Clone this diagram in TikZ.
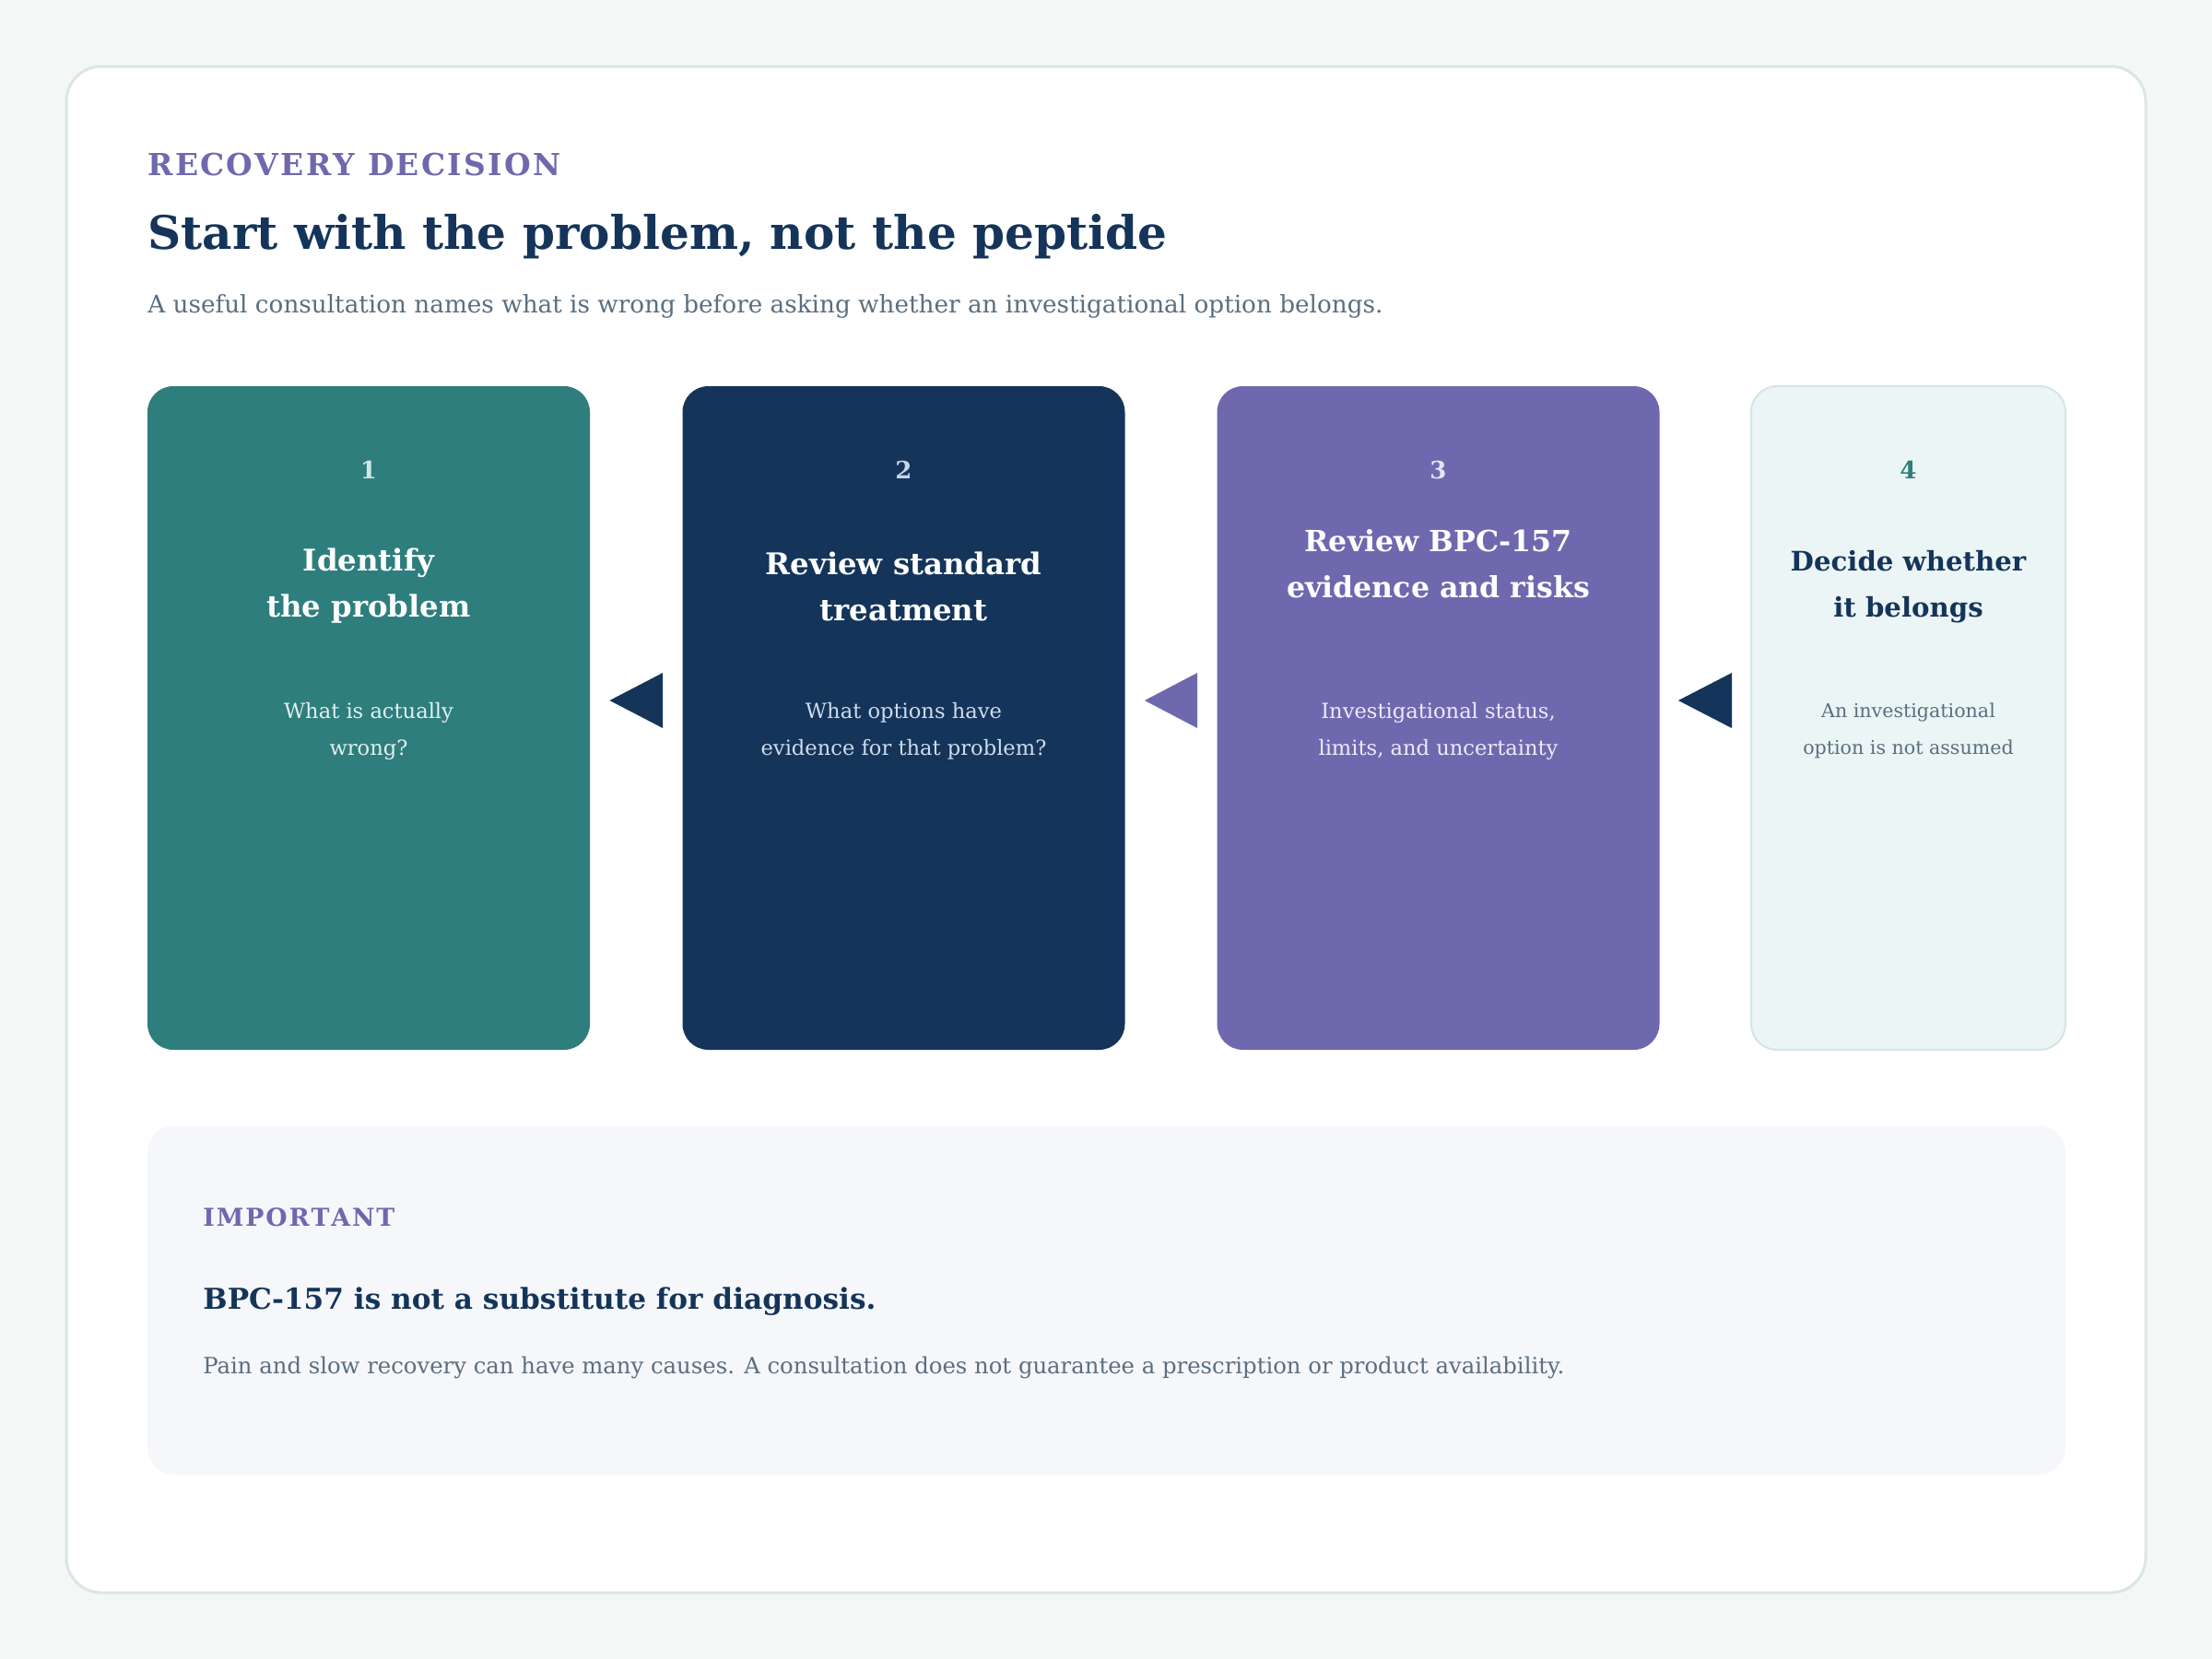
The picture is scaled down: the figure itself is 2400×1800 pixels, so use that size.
\documentclass[tikz,border=0pt]{standalone}
\usepackage{fontspec}
\setmainfont{DejaVu Serif}
\usetikzlibrary{calc}
\definecolor{bgc}{HTML}{F3F7F6}
\definecolor{outerline}{HTML}{DAE6E4}
\definecolor{purp}{HTML}{6E69AE}
\definecolor{navy}{HTML}{14345A}
\definecolor{tealc}{HTML}{2E7E7D}
\definecolor{grayt}{HTML}{5B6E80}
\definecolor{cardfour}{HTML}{EBF5F5}
\definecolor{cardfourline}{HTML}{D3E6E4}
\definecolor{notebg}{HTML}{F5F7FB}
\definecolor{numone}{HTML}{CFE7E4}
\definecolor{bodyone}{HTML}{E2F1EF}
\definecolor{numtwo}{HTML}{C5D5E8}
\definecolor{bodytwo}{HTML}{CFDCEE}
\definecolor{numthree}{HTML}{E6E4F4}
\definecolor{bodythree}{HTML}{ECEBF7}
\newcommand\lsp{\kern0.07em}
\begin{document}
\begin{tikzpicture}[x=0.5pt,y=-0.5pt,
  card/.style={rectangle, rounded corners=14pt, inner sep=0pt, minimum width=240pt, minimum height=360pt},
  numtxt/.style={inner sep=0pt, font=\bfseries\fontsize{13}{15}\selectfont},
  titletxt/.style={inner sep=0pt, align=center, font=\bfseries\fontsize{16.2}{25}\selectfont},
  bodytxt/.style={inner sep=0pt, align=center, font=\fontsize{11.3}{20}\selectfont},
  linetxt/.style={inner sep=0pt, anchor=base west}]
\useasboundingbox (0,0) rectangle (2400,1800);
\fill[bgc] (0,0) rectangle (2400,1800);
\draw[line width=1.5pt, draw=outerline, fill=white, rounded corners=19pt] (72,72) rectangle (2328,1728);

% header
\node[linetxt, text=purp] (kicker) at (160,190) {\resizebox{224pt}{!}{\bfseries\fontsize{20}{24}\selectfont R\lsp E\lsp C\lsp O\lsp V\lsp E\lsp R\lsp Y\lsp{} D\lsp E\lsp C\lsp I\lsp S\lsp I\lsp O\lsp N}};
\node[linetxt, text=navy] (title) at (160,270) {\resizebox{553pt}{!}{\bfseries\fontsize{30}{36}\selectfont Start with the problem, not the peptide}};
\node[linetxt, text=grayt] (sub) at (160,339) {\resizebox{670pt}{!}{\fontsize{12}{14}\selectfont A useful consultation names what is wrong before asking whether an investigational option belongs.}};

% cards
\node[card, fill=tealc] (c1) at (400,779) {};
\node[card, fill=navy] (c2) at (980.5,779) {};
\node[card, fill=purp] (c3) at (1560.5,779) {};
\node[card, fill=cardfour, draw=cardfourline, line width=1pt, minimum width=170.5pt] (c4) at (2070.5,779) {};

% card 1
\node[numtxt, text=numone] (n1) at (400,510) {1};
\node[titletxt, text=white] (t1) at (400,636) {Identify\\the problem};
\node[bodytxt, text=bodyone] (b1) at (400,793) {What is actually\\wrong?};
% card 2
\node[numtxt, text=numtwo] (n2) at (980.5,510) {2};
\node[titletxt, text=white] (t2) at (980.5,636) {Review standard\\treatment};
\node[bodytxt, text=bodytwo] (b2) at (980.5,793) {What options have\\evidence for that problem?};
% card 3
\node[numtxt, text=numthree] (n3) at (1560.5,510) {3};
\node[titletxt, text=white, font=\bfseries\fontsize{15.8}{25}\selectfont] (t3) at (1560.5,612) {Review BPC-157\\evidence and risks};
\node[bodytxt, text=bodythree] (b3) at (1560.5,793) {Investigational status,\\limits, and uncertainty};
% card 4
\node[numtxt, text=tealc] (n4) at (2070.5,510) {4};
\node[titletxt, text=navy, font=\bfseries\fontsize{14.6}{25}\selectfont] (t4) at (2070.5,637) {Decide whether\\it belongs};
\node[bodytxt, text=grayt, font=\fontsize{10.3}{20}\selectfont] (b4) at (2070.5,793) {An investigational\\option is not assumed};

% arrows
\fill[navy] ($(c1.east)+(21,-19)$) -- ($(c2.west)+(-21,-49)$) -- ($(c2.west)+(-21,11)$) -- cycle;
\fill[purp] ($(c2.east)+(21,-19)$) -- ($(c3.west)+(-21,-49)$) -- ($(c3.west)+(-21,11)$) -- cycle;
\fill[navy] ($(c3.east)+(20,-19)$) -- ($(c4.west)+(-20,-49)$) -- ($(c4.west)+(-20,11)$) -- cycle;

% note box
\node[fill=notebg, rounded corners=15pt, inner sep=0pt, minimum width=1040.5pt, minimum height=189.5pt] (note) at (1200.5,1410.5) {};
\node[linetxt, text=purp] (imp) at (220,1330) {\resizebox{104pt}{!}{\bfseries\fontsize{15}{18}\selectfont I\lsp M\lsp P\lsp O\lsp R\lsp T\lsp A\lsp N\lsp T}};
\node[linetxt, text=navy] (nh) at (220,1420) {\resizebox{365pt}{!}{\bfseries\fontsize{18}{22}\selectfont BPC-157 is not a substitute for diagnosis.}};
\node[linetxt, text=grayt] (nb) at (220,1490) {\resizebox{738.5pt}{!}{\fontsize{12}{14}\selectfont Pain and slow recovery can have many causes. A consultation does not guarantee a prescription or product availability.}};
\end{tikzpicture}
\end{document}
